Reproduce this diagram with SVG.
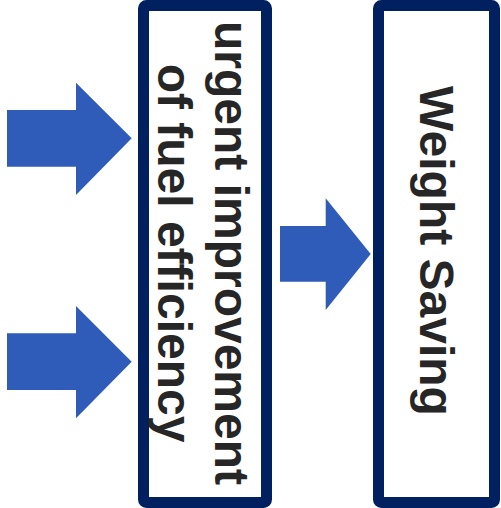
<svg xmlns="http://www.w3.org/2000/svg" width="501" height="508" viewBox="0 0 501 508">
  <style>
    .box { fill: #ffffff; stroke: #002060; stroke-width: 11; }
    .arrow { fill: #2F5CB9; stroke: none; }
    .lbl { font-family: "Liberation Sans", Arial, sans-serif; font-weight: bold; font-size: 48px; fill: #262626; text-anchor: middle; }
  </style>
  <rect width="501" height="508" fill="#ffffff"/>
  <g id="connectors">
    <polygon class="arrow" points="7,110 76,110 76,82.7 131.7,138.3 76,195 76,166.7 7,166.7"/>
    <polygon class="arrow" points="7,333.3 76,333.3 76,306 131.7,361.7 76,418.3 76,390 7,390"/>
    <polygon class="arrow" points="280,226 325.7,226 325.7,198.3 370.7,254 325.7,310 325.7,281.7 280,281.7"/>
  </g>
  <g id="node-fuel-efficiency">
    <rect class="box" x="143.5" y="5.5" width="123" height="497" rx="3"/>
    <text class="lbl" transform="translate(215,253) rotate(90)" x="0" y="0">urgent improvement</text>
    <text class="lbl" transform="translate(158,253) rotate(90)" x="0" y="0">of fuel efficiency</text>
  </g>
  <g id="node-weight-saving">
    <rect class="box" x="378.5" y="5.5" width="116" height="497" rx="3"/>
    <text class="lbl" transform="translate(420,251) rotate(90)" x="0" y="0">Weight Saving</text>
  </g>
</svg>
